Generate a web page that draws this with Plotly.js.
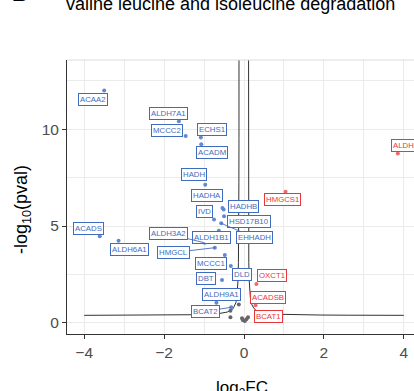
<!DOCTYPE html>
<html>
<head>
<meta charset="utf-8">
<script src="https://cdn.plot.ly/plotly-3.0.1.min.js"></script>
<style>
html,body{margin:0;padding:0;overflow:hidden;background:#fff;}
#chart{width:440px;height:391px;}
</style>
</head>
<body>
<div id="chart"></div>
<script>
// ---- data (log2 fold change, -log10 p-value) ----
const downGenes = ["ACAA2","ALDH7A1","MCCC2","ECHS1","ACADM","HADH","HADHA","HADHB","HSD17B10","IVD","EHHADH","ALDH1B1","ALDH3A2","HMGCL","ACADS","ALDH6A1","MCCC1","DLD","DBT","ALDH9A1","BCAT2"];
const downFC    = [-3.50,-1.63,-1.46,-1.08,-1.07,-0.97,-0.54,-0.51,-0.50,-0.75,-0.57,-0.63,-0.98,-0.73,-3.61,-3.14,-0.48,-0.33,-0.55,-0.69,-0.32];
const downP     = [12.01,10.42,9.65,9.58,9.22,7.13,5.93,5.85,5.51,5.34,5.14,4.75,4.13,3.88,4.47,4.24,3.50,2.93,2.21,1.03,0.80];

const upGenes = ["ALDH2","HMGCS1","OXCT1","ACADSB","BCAT1"];
const upFC    = [3.85,1.04,0.31,0.22,0.29];
const upP     = [8.75,6.77,2.00,1.28,0.91];

const nsFC = [-0.34,-0.34,-0.13,-0.05,-0.03,0.02,0.06,0.10];
const nsP  = [0.62,0.28,0.95,0.23,0.14,0.09,0.18,0.28];

// threshold curve parameters
const curveBase = 0.37, curveC = 0.055, curveX0Left = 0.12, curveX0Right = 0.10;

// label offsets in px [dx, dy(down)], and whether a connector is drawn
const labelOffsets = {
  ACAA2:[-11,9], ALDH7A1:[-10,-8], MCCC2:[-19,-6], ECHS1:[11,-8], ACADM:[10.5,8],
  HADH:[-11,-10], HADHA:[-15,-13], HADHB:[19.5,-3.5], HSD17B10:[24.5,5.3], IVD:[-10,-8],
  EHHADH:[33,14], ALDH1B1:[-7.6,6.3], ALDH3A2:[-36.5,-9], HMGCL:[-41,4.8],
  ACADS:[-11,-8], ALDH6A1:[11,9], MCCC1:[-14,8], DLD:[10.7,8], DBT:[-16,-1.3],
  ALDH9A1:[5,-8], BCAT2:[-25.5,4],
  ALDH2:[8,-8], HMGCS1:[-2.7,8], OXCT1:[15.3,-8.3], ACADSB:[15,-1], BCAT1:[13,11]
};
const withSegment = ["EHHADH","ALDH3A2","HMGCL","BCAT2"];

const BLUE = "#3f6cc0", BLUE_PT = "#6388cf";
const RED = "#e8383d", RED_PT = "#ee6a6c";
const FONT = "Liberation Sans, Arial, sans-serif";

// curve samples
function curve(side){
  const xs=[], ys=[];
  const x0 = side<0 ? curveX0Left : curveX0Right;
  const d = [0.0015,0.002,0.003,0.004,0.006,0.008,0.012,0.016,0.02,0.03,0.04,0.06,0.08,0.1,0.15,0.2,0.3,0.5,0.8,1.2,1.8,2.5,3.2,3.9-x0+0.1];
  d.forEach(v=>{ xs.push(side*(x0+v)); ys.push(curveBase + curveC/v); });
  if(side<0){ xs.reverse(); ys.reverse(); }
  return {xs, ys};
}
const cl = curve(-1), cr = curve(1);

const traces = [
  {x:cl.xs, y:cl.ys, mode:"lines", line:{color:"#333", width:1}, hoverinfo:"skip"},
  {x:cr.xs, y:cr.ys, mode:"lines", line:{color:"#333", width:1}, hoverinfo:"skip"},
  {x:nsFC, y:nsP, mode:"markers", marker:{color:"#666", size:4}},
  {x:downFC, y:downP, mode:"markers", marker:{color:BLUE_PT, size:4}},
  {x:upFC, y:upP, mode:"markers", marker:{color:RED_PT, size:4}}
];

const annotations = [];
function addLabels(genes, fc, p, col){
  genes.forEach((g,i)=>{
    const off = labelOffsets[g];
    const base = {x:fc[i], y:p[i], xref:"x", yref:"y", text:g,
      font:{family:FONT, size:7.8, color:col},
      bgcolor:"#ffffff", bordercolor:col, borderwidth:1, borderpad:1};
    if(withSegment.includes(g)){
      Object.assign(base,{showarrow:true, arrowhead:0, arrowwidth:0.9, arrowcolor:col, ax:off[0], ay:off[1], standoff:0});
    } else {
      Object.assign(base,{showarrow:false, xshift:off[0], yshift:-off[1]});
    }
    annotations.push(base);
  });
}
addLabels(downGenes, downFC, downP, BLUE);
addLabels(upGenes, upFC, upP, RED);

// titles
annotations.push({xref:"paper", yref:"paper", x:-0.0085, y:1.16, xanchor:"left", yanchor:"bottom", showarrow:false,
  text:"valine leucine and isoleucine degradation", font:{family:FONT, size:18, color:"#000"}});
annotations.push({xref:"paper", yref:"paper", x:-0.16, y:1.19, xanchor:"left", yanchor:"bottom", showarrow:false,
  text:"<b>B</b>", font:{family:FONT, size:22, color:"#000"}});
annotations.push({xref:"paper", yref:"paper", x:0.495, y:-0.153, xanchor:"center", yanchor:"top", showarrow:false,
  text:"log<sub>2</sub>FC", font:{family:FONT, size:17, color:"#000"}});
annotations.push({xref:"paper", yref:"paper", x:-0.125, y:0.455, xanchor:"center", yanchor:"middle", showarrow:false, textangle:-90,
  text:"-log<sub>10</sub>(pval)", font:{family:FONT, size:18, color:"#000"}});

const axisCommon = {
  showgrid:true, gridcolor:"#ebebeb", gridwidth:1, zeroline:false,
  showline:true, linecolor:"#333", linewidth:1, ticks:"outside", ticklen:4, tickcolor:"#333", tickwidth:1,
  tickfont:{family:FONT, size:15.5, color:"#4d4d4d"}
};

const layout = {
  width:440, height:391,
  margin:{l:67, r:18.5, t:60, b:57},
  paper_bgcolor:"#fff", plot_bgcolor:"#fff",
  showlegend:false,
  xaxis:Object.assign({}, axisCommon, {range:[-4.43,4.43], tickvals:[-4,-2,0,2,4], minor:{tickvals:[-3,-1,1,3], showgrid:true, gridcolor:"#ebebeb", ticks:""}}),
  yaxis:Object.assign({}, axisCommon, {range:[-0.58,13.58], tickvals:[0,5,10], minor:{tickvals:[2.5,7.5,12.5], showgrid:true, gridcolor:"#ebebeb", ticks:""}}),
  shapes:[
    {type:"line", xref:"paper", yref:"paper", x0:0, x1:1, y0:1, y1:1, line:{color:"#dcdcdc", width:1}},
    {type:"line", xref:"paper", yref:"paper", x0:1, x1:1, y0:0, y1:1, line:{color:"#dcdcdc", width:1}}
  ],
  annotations:annotations
};

Plotly.newPlot("chart", traces, layout, {staticPlot:true, displayModeBar:false});
</script>
</body>
</html>
